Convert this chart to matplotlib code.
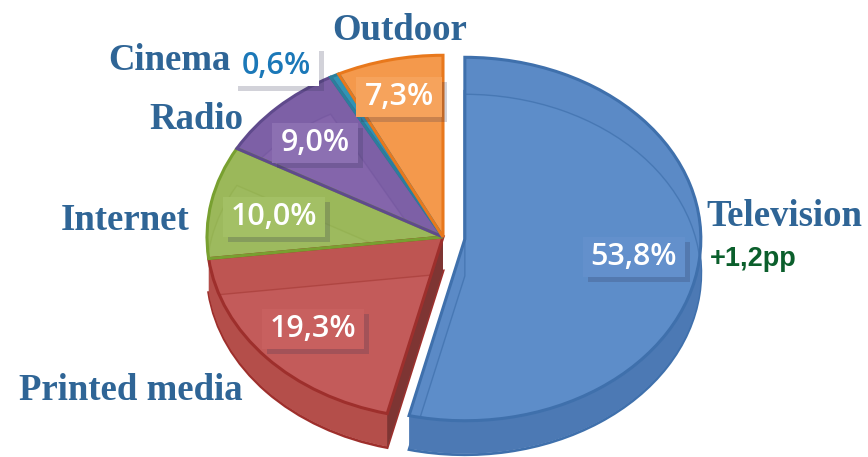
import matplotlib
matplotlib.use("Agg")
import matplotlib.pyplot as plt
import numpy as np
from matplotlib.patches import Polygon, Rectangle

W, H = 868, 457
names = ["Television", "Printed media", "Internet", "Radio", "Cinema", "Outdoor"]
shares = [53.8, 19.3, 10.0, 9.0, 0.6, 7.3]
pct_labels = ["53,8%", "19,3%", "10,0%", "9,0%", "0,6%", "7,3%"]
change_label = "+1,2pp"

top_colors = ["#5B8AC6", "#BE5552", "#9BB85A", "#7D60A6", "#3194B4", "#F4994C"]
edge_colors = ["#3F70AC", "#9E2F2C", "#78A030", "#5F4A8C", "#2A7F9C", "#E8781C"]
side_colors = ["#4C79B4", "#B44E4A", "none", "none", "none", "none"]
rim_colors = ["#3F70AC", "#9E2F2C", "none", "none", "none", "none"]
facet_colors = ["#5F8FCB", "#C65E5E", "#9FBC60", "#8868AE", "none", "none"]
facet_edges = ["#3F70AC", "#A83E3A", "#93B050", "#7558A0", "none", "none"]
# pie() takes explode in data units
explode = [22, 0, 0, 0, 0, 0]

# the y scale squashes the pie to an ellipse
squash = 0.77
cx, cy_px, R = 443, 237, 236
depth_px = 34

fig = plt.figure(figsize=(W / 100, H / 100), dpi=100)
ax = fig.add_axes([0, 0, 1, 1])


def data_y(py):
    return (H - py) / squash


def fig_xy(px, py):
    return px / W, 1 - py / H


def draw_pie(colors, shift=0, lw=0.0):
    wedges, _ = ax.pie(shares, colors=colors, startangle=90, counterclock=False,
                       center=(cx, data_y(cy_px + shift)), radius=R, explode=explode,
                       wedgeprops={"linewidth": lw})
    return wedges


# side walls first, stepping up to the top face
for w, c in zip(draw_pie(["none"] * 6, depth_px, 2.0), rim_colors):
    w.set_edgecolor(c)
for d in range(depth_px - 1, 0, -1):
    draw_pie(side_colors, d)

# dark cut wall of the red slice, along its boundary with the blue one
theta = np.deg2rad(90 - 3.6 * shares[0])
outer_x = cx + R * np.cos(theta)
outer_y = data_y(cy_px) + R * np.sin(theta)
drop = depth_px / squash
wall = Polygon([(cx, data_y(cy_px)), (outer_x, outer_y), (outer_x, outer_y - drop),
                (cx, data_y(cy_px) - drop)], fc="#7E3533", ec="none", zorder=2)
ax.add_patch(wall)

top = draw_pie(top_colors, 0, 0)
for w in top:
    w.set_zorder(3)

# lighter bevel facets, the same wedges moved down and clipped to the top face
facets = draw_pie(facet_colors, 37, 1.0)
for w, t, c in zip(facets, top, facet_edges):
    w.set_clip_on(True)
    w.set_clip_path(t.get_path(), t.get_transform())
    w.set_zorder(4)
    w.set_edgecolor(c)
    w.set_alpha(0.7)

# outline again over the facets
for w, c in zip(draw_pie(["none"] * 6, 0, 2.2), edge_colors):
    w.set_edgecolor(c)
    w.set_zorder(5)

ax.set_aspect("auto")
ax.set_xlim(0, W)
ax.set_ylim(0, H / squash)

# category names
name_pos = [(706, 217, "left"), (19, 390, "left"), (189, 220, "right"),
            (243, 119, "right"), (231, 60, "right"), (400, 30, "center")]
for n, (x, y, ha) in zip(names, name_pos):
    fx, fy = fig_xy(x, y)
    fig.text(fx, fy, n, ha=ha, va="center", family="Liberation Serif",
             weight="bold", size=26.5, color="#2F6596", zorder=10)

fx, fy = fig_xy(710, 259)
fig.text(fx, fy, change_label, ha="left", va="center", family="Liberation Sans",
         weight="bold", size=19.5, color="#0B5F2C", zorder=10)

# percentage tags with a soft box and shadow
pct_pos = [(634, 257), (313, 329), (274, 217), (315, 143), (276, 66), (399, 97)]
box_colors = ["#6390CC", "#C8605F", "#A3C065", "#8C70B2", "#FFFFFF", "#F6A35C"]
text_colors = ["white", "white", "white", "white", "#1B78B8", "white"]
renderer = fig.canvas.get_renderer()
for lab, (x, y), bc, tc in zip(pct_labels, pct_pos, box_colors, text_colors):
    fx, fy = fig_xy(x, y)
    t = fig.text(fx, fy, lab, ha="center", va="center", family="Open Sans", size=22,
                 weight="semibold", color=tc, zorder=12)
    bb = t.get_window_extent(renderer)
    pad_x, pad_y = 8, 5
    shadow = Rectangle((bb.x0 - pad_x + 5, bb.y0 - pad_y - 5), bb.width + 2 * pad_x,
                       bb.height + 2 * pad_y, transform=None, fc="#333355", ec="none",
                       alpha=0.22, zorder=10.5)
    box = Rectangle((bb.x0 - pad_x, bb.y0 - pad_y), bb.width + 2 * pad_x,
                    bb.height + 2 * pad_y, transform=None, fc=bc, ec="none", zorder=11)
    fig.add_artist(shadow)
    fig.add_artist(box)

fig.savefig("out.png", dpi=100)
